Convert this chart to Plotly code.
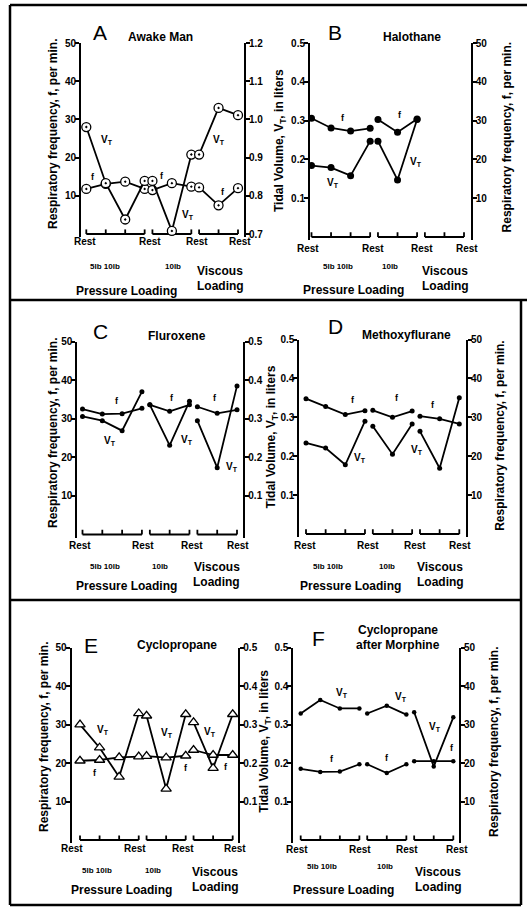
import plotly.graph_objects as go

W, H = 527, 909

# ---------------- data ----------------
X_POS = [0, 1, 2, 3, 3.4, 4.4, 5.4, 5.8, 6.8, 7.8]
GROUPS = [(0, 4), (4, 7), (7, 10)]

A_F = [11.8, 13.1, 13.7, 11.8, 11.5, 13.3, 12.4, 12.2, 7.5, 12.0]
A_VT = [0.980, 0.833, 0.738, 0.839, 0.839, 0.708, 0.908, 0.908, 1.030, 1.011]

B_F = [30.6, 28.1, 27.3, 28.0, 30.3, 27.0, 30.4, None, None, None]
B_VT = [0.184, 0.179, 0.158, 0.247, 0.247, 0.147, 0.303, None, None, None]

C_F = [32.5, 31.2, 31.3, 32.7, 33.6, 31.9, 33.6, 33.1, 31.4, 32.3]
C_VT = [0.306, 0.295, 0.269, 0.370, 0.336, 0.231, 0.345, 0.295, 0.173, 0.385]

D_F = [34.8, 32.8, 30.7, 31.7, 31.8, 30.0, 31.6, 30.3, 29.6, 28.3]
D_VT = [0.234, 0.221, 0.178, 0.290, 0.277, 0.205, 0.283, 0.264, 0.169, 0.350]

E_F = [20.6, 20.8, 21.5, 21.7, 21.8, 21.4, 21.9, 23.4, 22.1, 22.1]
E_VT = [0.300, 0.240, 0.164, 0.329, 0.323, 0.133, 0.327, 0.306, 0.187, 0.327]

F_F = [18.5, 17.7, 17.8, 19.7, 19.7, 17.4, 19.7, 20.5, 20.5, 20.5]
F_VT = [0.329, 0.364, 0.342, 0.342, 0.329, 0.349, 0.326, 0.332, 0.191, 0.319]

F_TICKS = [10, 20, 30, 40, 50]
F_TICKTEXT = ["10", "20", "30", "40", "50"]
VT_TICKS = [0.1, 0.2, 0.3, 0.4, 0.5]
VT_TICKTEXT = ["0.1", "0.2", "0.3", "0.4", "0.5"]
VTA_TICKS = [0.7, 0.8, 0.9, 1.0, 1.1, 1.2]
VTA_TICKTEXT = ["0.7", "0.8", "0.9", "1.0", "1.1", "1.2"]

F_TITLE = "Respiratory frequency, f, per min."
VT_TITLE = "Tidal Volume, V<sub>T</sub>, in liters"
VT_LABEL = "V<sub>T</sub>"

FONT = "Liberation Sans, Arial, sans-serif"

# ---------------- panel setup ----------------
PANELS = [
    dict(letter="A", titles=[("Awake Man", 160, 37)], letter_xy=(100, 33),
         f=A_F, vt=A_VT, vt_side="right", vt_lo=0.7, vt_ticks=(VTA_TICKS, VTA_TICKTEXT),
         marker=dict(symbol="circle-dot", size=9, color="white", line=dict(color="black", width=1.3)),
         continuous=True,
         geom=dict(left=81, right=244, x0=86.3, x1=238, top=43, zero=234),
         rest=([85, 150, 196.7, 240], 241),
         sub=[("5lb 10lb", 105, 266.7, 8), ("10lb", 173.3, 266.7, 8), ("Viscous", 220, 270.7, 12),
              ("Loading", 220, 286, 12), ("Pressure Loading", 126.7, 290.7, 12)],
         labels=[("vt", 1.05, 24.6), ("f", 0.36, 15), ("f", 3.9, 15.2), ("vt", 5.25, 5),
                 ("vt", 6.82, 24.6), ("f", 7.05, 11)]),
    dict(letter="B", titles=[("Halothane", 411.7, 37)], letter_xy=(335, 33),
         f=B_F, vt=B_VT, vt_side="left", vt_lo=0.0, vt_ticks=(VT_TICKS, VT_TICKTEXT),
         marker=dict(symbol="circle", size=7, color="black"),
         continuous=False,
         geom=dict(left=310, right=470.7, x0=311.5, x1=464, top=43, zero=237),
         rest=([308.3, 373.3, 421.7, 466.7], 248),
         sub=[("5lb 10lb", 338.3, 266.7, 8), ("10lb", 390, 266.7, 8), ("Viscous", 445, 270.7, 12),
              ("Loading", 445, 286, 12), ("Pressure Loading", 353.3, 290, 12)],
         labels=[("f", 1.63, 30.7), ("f", 4.53, 31.4), ("vt", 1.12, 13.8), ("vt", 5.35, 19.4)]),
    dict(letter="C", titles=[("Fluroxene", 176.7, 336)], letter_xy=(100, 331.7),
         f=C_F, vt=C_VT, vt_side="right", vt_lo=0.0, vt_ticks=(VT_TICKS, VT_TICKTEXT),
         marker=dict(symbol="circle", size=5, color="black"),
         continuous=False,
         geom=dict(left=77.3, right=243.3, x0=82.5, x1=237, top=341.5, zero=534.5),
         rest=([80, 143.3, 191.7, 238.3], 545),
         sub=[("5lb 10lb", 105, 566.7, 8), ("10lb", 160, 566.7, 8), ("Viscous", 216.7, 566.7, 12),
              ("Loading", 216.7, 581.7, 12), ("Pressure Loading", 126.7, 586, 12)],
         labels=[("f", 1.73, 34.6), ("f", 4.5, 35.4), ("f", 6.7, 35.3), ("vt", 1.39, 24.2),
                 ("vt", 5.26, 24.5), ("vt", 7.53, 17.6)]),
    dict(letter="D", titles=[("Methoxyflurane", 406.7, 335)], letter_xy=(335, 326),
         f=D_F, vt=D_VT, vt_side="left", vt_lo=0.0, vt_ticks=(VT_TICKS, VT_TICKTEXT),
         marker=dict(symbol="circle", size=5, color="black"),
         continuous=False,
         geom=dict(left=299.3, right=466, x0=306, x1=459.3, top=339.5, zero=534),
         rest=([305, 368.3, 415, 460], 545),
         sub=[("5lb 10lb", 328.3, 566.7, 8), ("10lb", 386.7, 566.7, 8), ("Viscous", 440, 566.7, 12),
              ("Loading", 440, 581.7, 12), ("Pressure Loading", 350, 586, 12)],
         labels=[("f", 2.38, 34.4), ("f", 4.65, 34.9), ("f", 6.48, 33.2), ("vt", 2.75, 19.5),
                 ("vt", 5.63, 21.6)]),
    dict(letter="E", titles=[("Cyclopropane", 176.7, 645)], letter_xy=(90.7, 645),
         f=E_F, vt=E_VT, vt_side="right", vt_lo=0.0, vt_ticks=(VT_TICKS, VT_TICKTEXT),
         marker=dict(symbol="triangle-up", size=9, color="white", line=dict(color="black", width=1.3)),
         continuous=False,
         geom=dict(left=71.7, right=238.3, x0=80, x1=232.7, top=647.7, zero=840),
         rest=([71.7, 135, 182.7, 235], 848.3),
         sub=[("5lb 10lb", 96.7, 870, 8), ("10lb", 153.3, 870, 8), ("Viscous", 215, 871.7, 12),
              ("Loading", 215, 886.7, 12), ("Pressure Loading", 121.7, 890, 12)],
         labels=[("vt", 1.19, 28.6), ("f", 0.77, 17.5), ("vt", 4.43, 27.9), ("f", 5.41, 18.6),
                 ("vt", 6.64, 28.2), ("f", 7.46, 19.1)]),
    dict(letter="F", titles=[("Cyclopropane", 398.3, 630), ("after Morphine", 398.3, 645)],
         letter_xy=(318.3, 638.3),
         f=F_F, vt=F_VT, vt_side="left", vt_lo=0.0, vt_ticks=(VT_TICKS, VT_TICKTEXT),
         marker=dict(symbol="circle", size=4.5, color="black"),
         continuous=False,
         geom=dict(left=293.3, right=459, x0=300.7, x1=453.3, top=647.7, zero=840),
         rest=([297.3, 360, 406.7, 456.7], 849.3),
         sub=[("5lb 10lb", 321.7, 866.7, 8), ("10lb", 385, 866.7, 8), ("Viscous", 438.3, 871.7, 12),
              ("Loading", 438.3, 886.7, 12), ("Pressure Loading", 343.3, 890, 12)],
         labels=[("vt", 2.1, 38.1), ("vt", 5.13, 37.3), ("vt", 6.87, 29.5), ("f", 1.62, 21.1),
                 ("f", 4.4, 21.4), ("f", 7.72, 24)]),
]

Y_TITLES = [
    (F_TITLE, 53, 134), (F_TITLE, 506.7, 136.7), (F_TITLE, 53, 433),
    (F_TITLE, 500, 435.8), (F_TITLE, 43.3, 736.7), (F_TITLE, 493.3, 741.7),
    (VT_TITLE, 280, 141), (VT_TITLE, 271.7, 436.7), (VT_TITLE, 265, 741.7),
]

LOW = 0.8  # fraction of a unit below zero shown (room for bracket line)


def pp(x, y):
    return x / W, 1 - y / H


def segs(vals, continuous):
    xs, ys = [], []
    groups = [(0, len(vals))] if continuous else GROUPS
    for gi, (s, e) in enumerate(groups):
        if gi > 0:
            xs.append(None)
            ys.append(None)
        xs.extend(X_POS[s:e])
        ys.extend(vals[s:e])
    return xs, ys


def ann(x, y, text, size, xref="paper", yref="paper", weight="bold", angle=0):
    return dict(x=x, y=y, xref=xref, yref=yref, showarrow=False, text=text,
                xanchor="center", yanchor="middle", textangle=angle,
                font=dict(family=FONT, size=size, color="black", weight=weight))


fig = go.Figure()
layout = dict(
    width=W, height=H, autosize=False,
    margin=dict(l=0, r=0, t=0, b=0, pad=0, autoexpand=False),
    paper_bgcolor="white", plot_bgcolor="rgba(0,0,0,0)",
    showlegend=False,
    font=dict(family=FONT, color="black", size=10),
)
annotations = []
shapes = []

for i, p in enumerate(PANELS, start=1):
    g = p["geom"]
    unit = (g["x1"] - g["x0"]) / (X_POS[-1] - X_POS[0])
    xr = [(g["left"] - g["x0"]) / unit, (g["right"] - g["x0"]) / unit]
    ppu = (g["zero"] - g["top"]) / 50.0
    bottom_px = g["zero"] + LOW * ppu
    ydom = [1 - bottom_px / H, 1 - g["top"] / H]
    xk = "xaxis" if i == 1 else f"xaxis{i}"
    xref = "x" if i == 1 else f"x{i}"
    yl = 2 * i - 1
    yr = 2 * i
    ylk = "yaxis" if yl == 1 else f"yaxis{yl}"
    yrk = f"yaxis{yr}"
    ylref = "y" if yl == 1 else f"y{yl}"
    yrref = f"y{yr}"

    layout[xk] = dict(domain=[g["left"] / W, g["right"] / W], range=xr, visible=False,
                      anchor=ylref, fixedrange=True, automargin=False)

    f_range = [-LOW, 50]
    vt_range = [p["vt_lo"] - LOW * 0.01, p["vt_lo"] + 0.5]
    axis_common = dict(showline=True, linecolor="black", linewidth=2, ticks="outside",
                       ticklen=4, tickwidth=1.6, tickcolor="black", showgrid=False,
                       zeroline=False, fixedrange=True, automargin=False,
                       ticklabelstandoff=-3,
                       tickfont=dict(family=FONT, size=10, color="black", weight="bold"))
    f_axis = dict(range=f_range, tickvals=F_TICKS, ticktext=F_TICKTEXT, **axis_common)
    vt_axis = dict(range=vt_range, tickvals=p["vt_ticks"][0], ticktext=p["vt_ticks"][1], **axis_common)

    if p["vt_side"] == "right":
        left_axis, right_axis = f_axis, vt_axis
        f_ref, vt_ref = ylref, yrref
        bracket_h = 1.2
    else:
        left_axis, right_axis = vt_axis, f_axis
        f_ref, vt_ref = yrref, ylref
        bracket_h = 0.012
    layout[ylk] = dict(domain=ydom, anchor=xref, side="left", **left_axis)
    layout[yrk] = dict(overlaying=ylref, anchor=xref, side="right", **right_axis)

    # bracket segments at the base of each panel
    bx, by = [], []
    base = p["vt_lo"] if p["vt_side"] == "left" else 0
    for (s, e) in GROUPS:
        bx += [X_POS[s], X_POS[e - 1], None]
        by += [base, base, None]
        for k in range(s, e):
            bx += [X_POS[k], X_POS[k], None]
            by += [base, base + bracket_h, None]
    fig.add_trace(go.Scatter(x=bx, y=by, mode="lines", xaxis=xref, yaxis=ylref,
                             line=dict(color="black", width=1.8), hoverinfo="skip",
                             cliponaxis=False))

    for vals, ref in ((p["vt"], vt_ref), (p["f"], f_ref)):
        xs, ys = segs(vals, p["continuous"])
        fig.add_trace(go.Scatter(x=xs, y=ys, mode="lines+markers", xaxis=xref, yaxis=ref,
                                 line=dict(color="black", width=1.8),
                                 marker=p["marker"], cliponaxis=False))

    # series labels (in f-axis units)
    for kind, lx, ly in p["labels"]:
        annotations.append(ann(lx, ly, VT_LABEL if kind == "vt" else "f",
                               10 if kind == "vt" else 9, xref=xref, yref=f_ref))

    # panel letter and titles
    lx, ly = pp(*p["letter_xy"])
    annotations.append(ann(lx, ly, p["letter"], 21, weight="normal"))
    for t, tx, ty in p["titles"]:
        annotations.append(ann(*pp(tx, ty), t, 12))

    # bottom labels
    rx_list, ry = p["rest"]
    for rx in rx_list:
        annotations.append(ann(*pp(rx, ry), "Rest", 10))
    for t, tx, ty, fs in p["sub"]:
        annotations.append(ann(*pp(tx, ty), t, fs))

for t, tx, ty in Y_TITLES:
    annotations.append(ann(*pp(tx, ty), t, 12, angle=-90))

# frame lines
FRAME = [((10, 5), (527, 5)), ((10, 5), (10, 905)), ((10, 300), (527, 300)),
         ((10, 600), (521, 600)), ((521, 300), (521, 905)), ((10, 905), (521, 905))]
for (x0, y0), (x1, y1) in FRAME:
    a0, b0 = pp(x0, y0)
    a1, b1 = pp(x1, y1)
    shapes.append(dict(type="line", xref="paper", yref="paper", x0=a0, y0=b0, x1=a1, y1=b1,
                       line=dict(color="black", width=2.5)))

layout["annotations"] = annotations
layout["shapes"] = shapes
fig.update_layout(**layout)
fig.write_html("out.html", config={"displayModeBar": False},
               post_script="document.body.style.margin='0';document.body.style.overflow='hidden';")
